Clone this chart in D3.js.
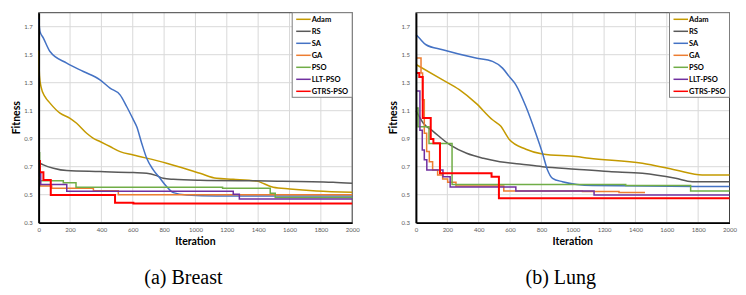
<!DOCTYPE html>
<html>
<head>
<meta charset="utf-8">
<script src="https://cdn.jsdelivr.net/npm/d3@7"></script>
<style>
  body { margin: 0; background: #fff; }
  svg { display: block; }
  .tick text { font-family: Lato, "Open Sans", sans-serif; }
</style>
</head>
<body>
<svg id="chart" width="746" height="295"></svg>
<script>
// tick values
const iterTicks = [0, 200, 400, 600, 800, 1000, 1200, 1400, 1600, 1800, 2000];
const fitTicks = [0.3, 0.5, 0.7, 0.9, 1.1, 1.3, 1.5, 1.7];

const methods = ["Adam", "RS", "SA", "GA", "PSO", "LLT-PSO", "GTRS-PSO"];
const colors = ["#C49A00", "#595959", "#4472C4", "#ED7D31", "#70AD47", "#7030A0", "#FF0000"];
// step-like methods keep their best value until the next improvement
const stepped = [false, false, false, true, true, true, true];

// (a) Breast  -- [iteration, fitness]
const breastAdam = [[0,1.53],[5,1.35],[15,1.27],[40,1.20],[72,1.154],[136,1.082],[200,1.046],[242,1.01],[306,0.939],[349,0.903],[391,0.88],[455,0.844],[519,0.808],[604,0.784],[816,0.725],[1029,0.653],[1135,0.617],[1241,0.61],[1390,0.597],[1496,0.553],[1602,0.541],[1772,0.527],[2000,0.517]];
const breastRS = [[0,0.73],[30,0.713],[94,0.689],[179,0.672],[391,0.665],[604,0.658],[689,0.653],[752,0.636],[795,0.617],[859,0.61],[1029,0.603],[1454,0.598],[1878,0.589],[2000,0.581]];
const breastSA = [[0,1.755],[8,1.667],[30,1.619],[72,1.523],[179,1.44],[285,1.38],[391,1.32],[455,1.261],[519,1.213],[561,1.13],[604,1.035],[625,0.987],[657,0.868],[689,0.76],[731,0.677],[774,0.617],[816,0.558],[859,0.515],[944,0.498],[1135,0.491],[2000,0.491]];
const breastGA = [[0,0.62],[8,0.562],[83,0.546],[349,0.529],[508,0.50],[2000,0.50]];
const breastPSO = [[0,0.80],[6,0.60],[157,0.585],[238,0.553],[1173,0.546],[1477,0.51],[1509,0.48],[2000,0.48]];
const breastLLT = [[0,0.65],[13,0.572],[179,0.524],[1241,0.503],[1280,0.47],[2000,0.47]];
const breastGTRS = [[0,0.74],[8,0.66],[30,0.605],[77,0.498],[487,0.443],[604,0.438],[2000,0.438]];

// (b) Lung
const lungAdam = [[0,1.43],[170,1.32],[276,1.25],[382,1.154],[488,1.035],[540,0.99],[594,0.896],[701,0.825],[807,0.791],[1019,0.772],[1104,0.76],[1444,0.725],[1656,0.677],[1826,0.641],[2000,0.641]];
const lungRS = [[0,1.10],[47,1.01],[111,0.951],[217,0.856],[323,0.796],[430,0.76],[535,0.736],[662,0.72],[807,0.70],[1019,0.682],[1231,0.665],[1444,0.653],[1656,0.617],[1762,0.593],[2000,0.593]];
const lungSA = [[0,1.643],[21,1.619],[64,1.571],[170,1.535],[382,1.476],[488,1.452],[552,1.404],[594,1.345],[637,1.285],[701,1.13],[764,0.939],[807,0.796],[839,0.677],[871,0.617],[934,0.593],[1125,0.565],[2000,0.558]];
const lungGA = [[0,1.476],[21,1.476],[32,1.37],[42,1.178],[53,0.939],[68,0.808],[85,0.736],[106,0.677],[138,0.641],[170,0.612],[202,0.589],[255,0.562],[560,0.527],[1062,0.522],[1295,0.515],[1461,0.515]];
const lungPSO = [[0,1.12],[13,0.985],[83,0.865],[230,0.572],[1338,0.565],[1752,0.527],[2000,0.527]];
const lungLLT = [[0,1.24],[25,0.96],[40,0.82],[53,0.75],[69,0.677],[172,0.629],[218,0.555],[637,0.527],[1136,0.498],[2000,0.498]];
const lungGTRS = [[0,1.37],[21,1.34],[43,1.047],[94,0.897],[111,0.868],[153,0.653],[482,0.629],[529,0.474],[2000,0.474]];

const panels = [
  { left: 38.7, caption: "(a) Breast", series: [breastAdam, breastRS, breastSA, breastGA, breastPSO, breastLLT, breastGTRS] },
  { left: 416, caption: "(b) Lung", series: [lungAdam, lungRS, lungSA, lungGA, lungPSO, lungLLT, lungGTRS] }
];

const svg = d3.select("#chart");
const plotW = 313.5, plotTop = 12.7, plotBottom = 222.7;

panels.forEach(p => {
  const x = d3.scaleLinear().domain([0, 2000]).range([p.left, p.left + plotW]);
  const y = d3.scaleLinear().domain([0.3, 1.8]).range([plotBottom, plotTop]);
  const g = svg.append("g");

  // grid
  g.append("g").selectAll("line").data(iterTicks.slice(1)).join("line")
    .attr("x1", d => x(d)).attr("x2", d => x(d))
    .attr("y1", plotTop).attr("y2", plotBottom)
    .attr("stroke", "#d9d9d9").attr("stroke-width", 1);
  g.append("g").selectAll("line").data(fitTicks.slice(1)).join("line")
    .attr("x1", p.left).attr("x2", p.left + plotW)
    .attr("y1", d => y(d)).attr("y2", d => y(d))
    .attr("stroke", "#d9d9d9").attr("stroke-width", 1);

  // plot frame
  g.append("rect")
    .attr("x", p.left).attr("y", plotTop)
    .attr("width", plotW).attr("height", plotBottom - plotTop)
    .attr("fill", "none").attr("stroke", "#404040").attr("stroke-width", 1);

  // series
  p.series.forEach((s, i) => {
    const line = d3.line()
      .x(d => x(d[0])).y(d => y(d[1]))
      .curve(stepped[i] ? d3.curveStepAfter : d3.curveMonotoneX);
    g.append("path")
      .datum(s)
      .attr("d", line)
      .attr("fill", "none")
      .attr("stroke", colors[i])
      .attr("stroke-width", i === 6 ? 2 : 1.5);
  });

  // axes
  const xAxis = g.append("g").attr("transform", `translate(0,${plotBottom})`)
    .call(d3.axisBottom(x).tickValues(iterTicks).tickSize(0).tickPadding(5).tickFormat(d3.format("d")));
  xAxis.select(".domain").attr("stroke", "#000").attr("stroke-width", 1.5);
  xAxis.selectAll("text").attr("font-size", 6).attr("fill", "#595959");

  const yAxis = g.append("g").attr("transform", `translate(${p.left},0)`)
    .call(d3.axisLeft(y).tickValues(fitTicks).tickSize(0).tickPadding(6).tickFormat(d3.format(".1f")));
  yAxis.select(".domain").attr("stroke", "#000").attr("stroke-width", 1.8);
  yAxis.selectAll("text").attr("font-size", 6).attr("fill", "#595959");

  // axis titles
  g.append("text")
    .attr("x", p.left + plotW / 2).attr("y", 245)
    .attr("text-anchor", "middle")
    .attr("font-family", "Lato, sans-serif").attr("font-weight", "bold").attr("font-size", 10.5)
    .text("Iteration");
  g.append("text")
    .attr("transform", `translate(${p.left - 19},${(plotTop + plotBottom) / 2}) rotate(-90)`)
    .attr("text-anchor", "middle")
    .attr("font-family", "Lato, sans-serif").attr("font-weight", "bold").attr("font-size", 10.5)
    .text("Fitness");

  // legend
  const lx = p.left + plotW - 60;
  const lg = g.append("g");
  lg.append("rect")
    .attr("x", lx).attr("y", plotTop)
    .attr("width", 60).attr("height", 84.6)
    .attr("fill", "#fff").attr("stroke", "#7f7f7f").attr("stroke-width", 1);
  methods.forEach((m, i) => {
    const ly = plotTop + 6.6 + i * 12;
    lg.append("line")
      .attr("x1", lx + 4).attr("x2", lx + 18.5)
      .attr("y1", ly).attr("y2", ly)
      .attr("stroke", colors[i]).attr("stroke-width", 1.5);
    lg.append("text")
      .attr("x", lx + 19.5).attr("y", ly + 2.6)
      .attr("font-family", "Lato, sans-serif").attr("font-weight", "bold").attr("font-size", 7.5)
      .text(m);
  });

  // caption
  g.append("text")
    .attr("x", p.left + plotW / 2 - 12).attr("y", 284)
    .attr("text-anchor", "middle")
    .attr("font-family", "'Liberation Serif', 'Times New Roman', serif").attr("font-size", 20)
    .text(p.caption);
});
</script>
</body>
</html>
